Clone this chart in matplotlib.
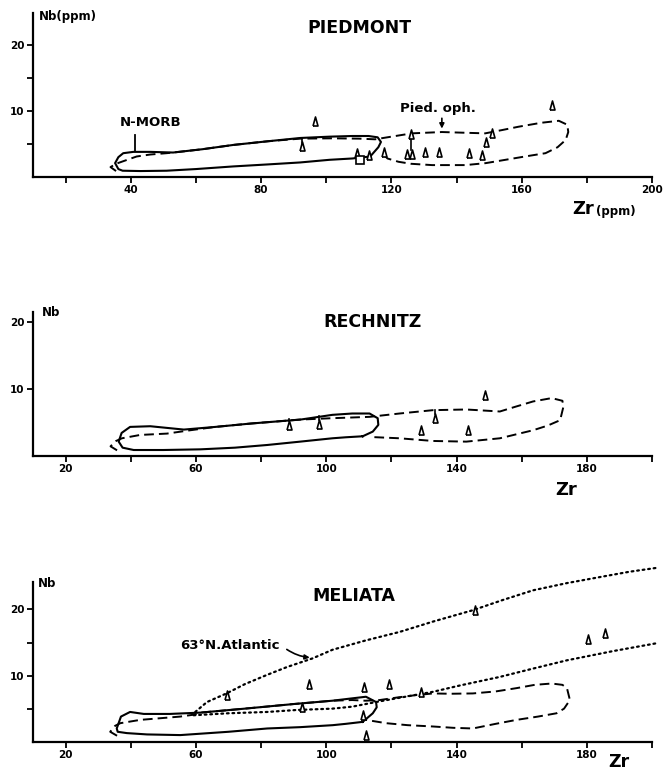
import matplotlib
matplotlib.use("Agg")
import matplotlib.pyplot as plt

plt.rcParams["font.family"] = ["DejaVu Sans"]

# --- data (Zr, Nb in ppm) ---

# PIEDMONT
PIED_MORB_X = [113.5, 108, 101, 92, 82, 71.5, 60, 51, 43, 37.5, 36.2, 35.2, 36.2, 37.7, 40.8, 46, 53,
               62, 71.5, 82, 92, 101, 108, 113, 115.8, 116.8, 116, 113.5]
PIED_MORB_Y = [3.1, 2.8, 2.6, 2.2, 1.9, 1.6, 1.2, 0.95, 0.9, 0.95, 1.2, 2.1, 3.0, 3.6, 3.8, 3.8, 3.7,
               4.2, 4.85, 5.4, 5.9, 6.1, 6.2, 6.2, 6.0, 5.3, 4.5, 3.1]
PIED_OPH_X = [35.5, 33.8, 35.5, 37.2, 41.8, 46, 51, 53, 62, 71.5, 82, 92, 101.8, 110, 115, 120, 126.3,
              135.5, 142, 148.8, 154, 159, 166, 171.4, 174, 174.3, 173.5, 171, 167.3, 161, 155, 149,
              142.7, 132.5, 126, 122.2, 118.8, 117.6, 117.6]
PIED_OPH_Y = [0.9, 1.5, 2.0, 2.3, 3.1, 3.4, 3.6, 3.7, 4.2, 4.85, 5.4, 5.8, 5.85, 5.8, 5.7, 6.1, 6.6,
              6.8, 6.7, 6.6, 7.1, 7.6, 8.2, 8.5, 7.9, 6.8, 5.6, 4.5, 3.6, 3.1, 2.6, 2.1,
              1.8, 1.8, 2.0, 2.3, 2.8, 3.4, 4.1]
PIED_TRI_X = [92.5, 96.6, 109.3, 113.2, 117.8, 124.8, 126.2, 126.0, 130.2, 134.7, 143.8, 147.8, 149.0, 151.0, 169.3]
PIED_TRI_Y = [4.7, 8.5, 3.6, 3.4, 3.8, 3.5, 3.5, 6.5, 3.8, 3.8, 3.6, 3.4, 5.3, 6.6, 10.9]
PIED_SQ_X = [110.3]
PIED_SQ_Y = [2.5]
PIED_STEM_X = [92.5, 126.0]
PIED_STEM_Y0 = [5.2, 4.1]
PIED_STEM_Y1 = [5.9, 6.0]

# RECHNITZ
RECH_MORB_X = [111.2, 106, 101.9, 92, 81.9, 72, 61.4, 50, 40.9, 37.5, 36.3, 37.2, 39.8, 46, 56.3, 66,
               76.8, 92.2, 101.9, 108, 113.3, 115.8, 116, 114.3, 111.2]
RECH_MORB_Y = [2.9, 2.75, 2.6, 2.1, 1.6, 1.2, 0.95, 0.85, 0.85, 1.2, 2.1, 3.4, 4.3, 4.4, 3.9, 4.3,
               4.8, 5.4, 6.1, 6.3, 6.3, 5.6, 4.6, 3.6, 2.9]
RECH_OPH_X = [35.8, 33.8, 35.5, 37.3, 42.9, 51.1, 58.3, 66, 76.8, 92.2, 101.9, 113.3, 122.5, 132.8,
              143, 153.3, 158, 163.5, 169.2, 172.5, 172.8, 171.8, 168, 163.5, 153.3, 143, 132.8, 122.5, 113.3]
RECH_OPH_Y = [0.8, 1.4, 2.2, 2.6, 3.1, 3.3, 3.8, 4.3, 4.8, 5.4, 5.6, 5.8, 6.3, 6.8,
              6.9, 6.6, 7.3, 8.1, 8.6, 8.2, 7.3, 5.3, 4.5, 3.8, 2.6, 2.1, 2.2, 2.6, 2.8]
RECH_TRI_X = [88.6, 97.8, 129.2, 133.3, 143.5, 148.6]
RECH_TRI_Y = [4.6, 4.8, 3.9, 5.6, 3.9, 9.1]
RECH_STEM_X = [88.6, 97.8, 133.3]
RECH_STEM_Y0 = [5.2, 5.4, 6.2]
RECH_STEM_Y1 = [5.5, 5.9, 6.8]

# MELIATA
MEL_MORB_X = [111.2, 106, 102, 92, 81.9, 70, 55.2, 45, 38.8, 36, 35.7, 37, 39.8, 44, 52, 61.4, 75,
              90.1, 101.9, 107, 112.2, 115.3, 115.5, 114.3, 111.2]
MEL_MORB_Y = [3.0, 2.7, 2.5, 2.2, 2.0, 1.5, 1.0, 1.1, 1.3, 1.5, 2.0, 3.8, 4.5, 4.2, 4.2, 4.4, 5.0,
              5.7, 6.2, 6.5, 6.8, 6.0, 5.2, 4.3, 3.0]
MEL_OPH_X = [35.8, 33.7, 35.2, 36.8, 42.9, 55.2, 59.5, 61.4, 75, 90.1, 101.9, 108, 112, 116.4, 122,
             127.6, 132.8, 138, 145, 152, 158.4, 164, 169.2, 172.5, 173.9, 174.8, 173, 170.7, 165,
             158.4, 152, 145, 139, 132.8, 125, 118.4, 112.2]
MEL_OPH_Y = [0.9, 1.5, 2.4, 2.8, 3.3, 3.8, 4.1, 4.4, 5.0, 5.7, 6.2, 6.3, 6.2, 6.3, 6.7,
             7.05, 7.3, 7.25, 7.3, 7.6, 8.1, 8.6, 8.8, 8.6, 8.1, 6.3, 5.0, 4.3, 3.8,
             3.3, 2.7, 2.0, 2.1, 2.3, 2.5, 2.8, 3.3]
ATL_UP_X = [59.8, 63.4, 69.4, 75, 81.8, 88, 95.8, 101.9, 112, 122.5, 133, 145.1, 154, 163.5, 174, 184, 193, 201.5]
ATL_UP_Y = [4.5, 6.0, 7.3, 8.7, 10.1, 11.3, 12.6, 13.9, 15.3, 16.6, 18.2, 19.9, 21.4, 22.9, 24.0, 24.9, 25.7, 26.3]
ATL_LO_X = [59.3, 70, 81.9, 91, 101.9, 108, 115.3, 122, 132.8, 141, 153.3, 163, 173.8, 188, 201.5]
ATL_LO_Y = [4.0, 4.3, 4.5, 4.8, 5.0, 5.3, 6.0, 6.6, 7.55, 8.5, 9.8, 11.0, 12.3, 13.7, 14.9]
MEL_TRI_X = [69.4, 92.7, 94.7, 111.7, 119.4, 129.2, 111.2, 112.2, 145.6, 180.5, 185.6]
MEL_TRI_Y = [7.05, 5.3, 8.8, 8.3, 8.8, 7.55, 4.0, 1.0, 19.9, 15.6, 16.4]

X_TICKS = [20, 40, 60, 80, 100, 120, 140, 160, 180, 200]
X_LABELS_TOP = ["", "40", "", "80", "", "120", "", "160", "", "200"]
X_LABELS_LOW = ["20", "", "60", "", "100", "", "140", "", "180", ""]
Y_TICKS = [5, 10, 15, 20]
Y_LABELS = ["", "10", "", "20"]

TRI = [(-0.55, -1.0), (0.55, -1.0), (0.0, 1.0), (-0.55, -1.0)]
SOLID = dict(color="black", lw=1.5, solid_joinstyle="round", zorder=3)
DASHED = dict(color="black", lw=1.4, linestyle=(0, (5, 2.6)), zorder=2)
DOTTED = dict(color="black", lw=1.6, linestyle=(0, (0.8, 1.7)), dash_capstyle="round", zorder=2, clip_on=False)

W, H = 664, 774


def frame(fig, top_px, bottom_px, ymax):
    ax = fig.add_axes([33 / W, 1 - bottom_px / H, 619 / W, (bottom_px - top_px) / H])
    ax.set_xlim(10, 200)
    ax.set_ylim(0, ymax)
    for s in ("top", "right"):
        ax.spines[s].set_visible(False)
    for s in ("left", "bottom"):
        ax.spines[s].set_linewidth(1.6)
    ax.tick_params(direction="out", length=4, width=1.3, pad=2, labelsize=7.5)
    ax.patch.set_alpha(0)
    return ax


def triangles(ax, xs, ys):
    ax.plot(xs, ys, linestyle="none", marker=TRI, markersize=6.5, markerfacecolor="white",
            markeredgecolor="black", markeredgewidth=1.2, zorder=6, clip_on=False)


def stems(ax, xs, y0, y1):
    for x, a, b in zip(xs, y0, y1):
        ax.plot([x, x], [a, b], color="black", lw=1.2, zorder=5)


def set_ticks(ax, xlabels, yticks, ylabels):
    ax.set_xticks(X_TICKS)
    ax.set_xticklabels(xlabels, fontweight="bold")
    ax.set_yticks(yticks)
    ax.set_yticklabels(ylabels, fontweight="bold")


def main():
    fig = plt.figure(figsize=(W / 100, H / 100), dpi=100)

    # PIEDMONT
    ax = frame(fig, 13, 177, 24.8)
    set_ticks(ax, X_LABELS_TOP, Y_TICKS, Y_LABELS)
    ax.plot(PIED_OPH_X, PIED_OPH_Y, **DASHED)
    ax.plot(PIED_MORB_X, PIED_MORB_Y, **SOLID)
    stems(ax, PIED_STEM_X, PIED_STEM_Y0, PIED_STEM_Y1)
    triangles(ax, PIED_TRI_X, PIED_TRI_Y)
    ax.plot(PIED_SQ_X, PIED_SQ_Y, linestyle="none", marker="s", markersize=5.5, markerfacecolor="white",
            markeredgecolor="black", markeredgewidth=1.2, zorder=6)
    ax.text(110.3, 22.5, "PIEDMONT", ha="center", va="center", fontsize=12.5, fontweight="bold")
    ax.text(11.8, 24.3, "Nb(ppm)", ha="left", va="center", fontsize=8.5, fontweight="bold")
    ax.text(46, 8.2, "N-MORB", ha="center", va="center", fontsize=9.5, fontweight="bold")
    ax.plot([41.3, 41.3], [6.4, 3.9], color="black", lw=1.3, zorder=4)
    ax.text(134.3, 10.4, "Pied. oph.", ha="center", va="center", fontsize=9.5, fontweight="bold")
    ax.annotate("", xy=(135.5, 6.9), xytext=(135.5, 9.3),
                arrowprops=dict(arrowstyle="-|>", lw=1.2, color="black", mutation_scale=7))
    ax.text(178.9, -4.85, "Zr", ha="center", va="center", fontsize=13, fontweight="bold", clip_on=False)
    ax.text(188.8, -5.15, "(ppm)", ha="center", va="center", fontsize=8.5, fontweight="bold", clip_on=False)

    # RECHNITZ
    ax = frame(fig, 311.7, 455.7, 21.5)
    set_ticks(ax, X_LABELS_LOW, [10, 20], ["10", "20"])
    ax.plot(RECH_OPH_X, RECH_OPH_Y, **DASHED)
    ax.plot(RECH_MORB_X, RECH_MORB_Y, **SOLID)
    stems(ax, RECH_STEM_X, RECH_STEM_Y0, RECH_STEM_Y1)
    triangles(ax, RECH_TRI_X, RECH_TRI_Y)
    ax.text(114.3, 19.9, "RECHNITZ", ha="center", va="center", fontsize=12.5, fontweight="bold")
    ax.text(12.8, 21.4, "Nb", ha="left", va="center", fontsize=8.5, fontweight="bold", clip_on=False)
    ax.text(173.5, -5.1, "Zr", ha="center", va="center", fontsize=13, fontweight="bold", clip_on=False)

    # MELIATA
    ax = frame(fig, 581.7, 741.7, 24.2)
    set_ticks(ax, X_LABELS_LOW, Y_TICKS, Y_LABELS)
    ax.plot(MEL_OPH_X, MEL_OPH_Y, **DASHED)
    ax.plot(ATL_UP_X, ATL_UP_Y, **DOTTED)
    ax.plot(ATL_LO_X, ATL_LO_Y, **DOTTED)
    ax.plot(MEL_MORB_X, MEL_MORB_Y, **SOLID)
    triangles(ax, MEL_TRI_X, MEL_TRI_Y)
    ax.text(108.5, 22.0, "MELIATA", ha="center", va="center", fontsize=12.5, fontweight="bold")
    ax.text(11.5, 24.0, "Nb", ha="left", va="center", fontsize=8.5, fontweight="bold", clip_on=False)
    ax.text(70.3, 14.6, "63°N.Atlantic", ha="center", va="center", fontsize=9.5, fontweight="bold")
    ax.annotate("", xy=(95.8, 12.7), xytext=(87.2, 14.2),
                arrowprops=dict(arrowstyle="-|>", lw=1.2, color="black", mutation_scale=7,
                                connectionstyle="arc3,rad=0.15"))
    ax.text(189.7, -3.1, "Zr", ha="center", va="center", fontsize=12.5, fontweight="bold", clip_on=False)

    fig.savefig("out.png", dpi=100)
    plt.close(fig)


if __name__ == "__main__":
    main()
